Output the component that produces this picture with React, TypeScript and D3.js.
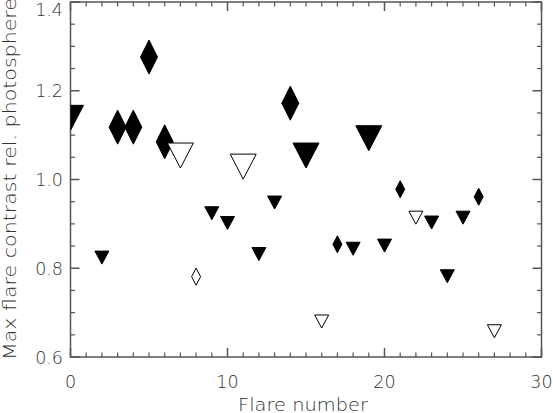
import { scaleLinear, range } from 'd3'

// flare points
const flareNumbers = [0, 2, 3, 4, 5, 6, 7, 8, 9, 10, 11, 12, 13, 14, 15, 16, 17, 18, 19, 20, 21, 22, 23, 24, 25, 26, 27]
const contrasts = [1.139, 0.824, 1.118, 1.118, 1.276, 1.085, 1.054, 0.781, 0.924, 0.902, 1.029, 0.832, 0.948, 1.172, 1.054, 0.680, 0.854, 0.844, 1.093, 0.851, 0.978, 0.914, 0.903, 0.782, 0.914, 0.961, 0.658]
const shapes = ['T', 'T', 'D', 'D', 'D', 'D', 'T', 'D', 'T', 'T', 'T', 'T', 'T', 'D', 'T', 'T', 'D', 'T', 'T', 'T', 'D', 'T', 'T', 'T', 'T', 'D', 'T']
const filled = [1, 1, 1, 1, 1, 1, 0, 0, 1, 1, 0, 1, 1, 1, 1, 0, 1, 1, 1, 1, 1, 0, 1, 1, 1, 1, 0]
const big = [1, 0, 1, 1, 1, 1, 1, 0, 0, 0, 1, 0, 0, 1, 1, 0, 0, 0, 1, 0, 0, 0, 0, 0, 0, 0, 0]

const xTicks = [0, 10, 20, 30]
const yTicks = [0.6, 0.8, 1.0, 1.2, 1.4]

const W = 553
const H = 413
const left = 70.5
const right = 541.5
const top = 2
const bottom = 357

const axisColor = '#555'
const textColor = '#333'
const font = '"DejaVu Sans", sans-serif'

const markerPath = (shape: string, isBig: number, cx: number, cy: number) => {
  if (shape === 'D') {
    const w = isBig ? 17 : 9
    const h = isBig ? 34 : 17
    return `M${cx},${cy - h / 2}L${cx + w / 2},${cy}L${cx},${cy + h / 2}L${cx - w / 2},${cy}Z`
  }
  const w = isBig ? 26 : 14
  const h = isBig ? 25 : 13
  return `M${cx - w / 2},${cy - h / 2}L${cx + w / 2},${cy - h / 2}L${cx},${cy + h / 2}Z`
}

const App = () => {
  const x = scaleLinear().domain([0, 30]).range([left, right])
  const y = scaleLinear().domain([0.6, 1.4]).range([bottom, top])

  const xMinor = range(0, 31, 1).filter(v => v % 10 !== 0)
  const yMinor = range(0, 17).map(i => 0.6 + i * 0.05).filter(v => Math.abs(v * 5 - Math.round(v * 5)) > 1e-6)

  return (
    <svg width={W} height={H} style={{ position: 'absolute', left: 0, top: 0, background: '#fff' }}>
      <defs>
        <clipPath id="plot">
          <rect x={left} y={top} width={right - left} height={bottom - top} />
        </clipPath>
      </defs>

      {/* frame */}
      <rect x={left} y={top} width={right - left} height={bottom - top} fill="none" stroke={axisColor} strokeWidth={1.5} />

      {/* x ticks bottom + top */}
      {xTicks.map(v => (
        <g key={'xt' + v} stroke={axisColor} strokeWidth={1.5}>
          <line x1={x(v)} x2={x(v)} y1={bottom} y2={bottom - 9} />
          <line x1={x(v)} x2={x(v)} y1={top} y2={top + 9} />
        </g>
      ))}
      {xMinor.map(v => (
        <g key={'xm' + v} stroke={axisColor} strokeWidth={1.2}>
          <line x1={x(v)} x2={x(v)} y1={bottom} y2={bottom - 4.5} />
          <line x1={x(v)} x2={x(v)} y1={top} y2={top + 4.5} />
        </g>
      ))}

      {/* y ticks left + right */}
      {yTicks.map(v => (
        <g key={'yt' + v} stroke={axisColor} strokeWidth={1.5}>
          <line x1={left} x2={left + 9} y1={y(v)} y2={y(v)} />
          <line x1={right} x2={right - 9} y1={y(v)} y2={y(v)} />
        </g>
      ))}
      {yMinor.map(v => (
        <g key={'ym' + v} stroke={axisColor} strokeWidth={1.2}>
          <line x1={left} x2={left + 4.5} y1={y(v)} y2={y(v)} />
          <line x1={right} x2={right - 4.5} y1={y(v)} y2={y(v)} />
        </g>
      ))}

      {/* tick labels */}
      {xTicks.map(v => (
        <text key={'xl' + v} x={x(v)} y={388} textAnchor="middle" fontFamily={font} fontSize={17.5} fontWeight={300} fill={textColor}>
          {v}
        </text>
      ))}
      {yTicks.map(v => (
        <text key={'yl' + v} x={63} y={Math.max(y(v) + 6.5, 16)} textAnchor="end" fontFamily={font} fontSize={17.5} fontWeight={300} fill={textColor}>
          {v.toFixed(1)}
        </text>
      ))}

      {/* axis titles */}
      <text x={303} y={411} textAnchor="middle" textLength={130} lengthAdjust="spacingAndGlyphs" fontFamily={font} fontSize={17.5} fontWeight={300} fill={textColor}>
        Flare number
      </text>
      <text transform={`translate(16,179) rotate(-90)`} textAnchor="middle" textLength={362} lengthAdjust="spacingAndGlyphs" fontFamily={font} fontSize={18.5} fontWeight={300} fill={textColor}>
        Max flare contrast rel. photosphere
      </text>

      {/* markers */}
      <g clipPath="url(#plot)">
        {flareNumbers.map((n, i) => (
          <path
            key={'m' + i}
            d={markerPath(shapes[i], big[i], x(n), y(contrasts[i]))}
            fill={filled[i] ? '#000' : '#fff'}
            stroke="#000"
            strokeWidth={1}
            strokeLinejoin="miter"
          />
        ))}
      </g>
    </svg>
  )
}

export default App
